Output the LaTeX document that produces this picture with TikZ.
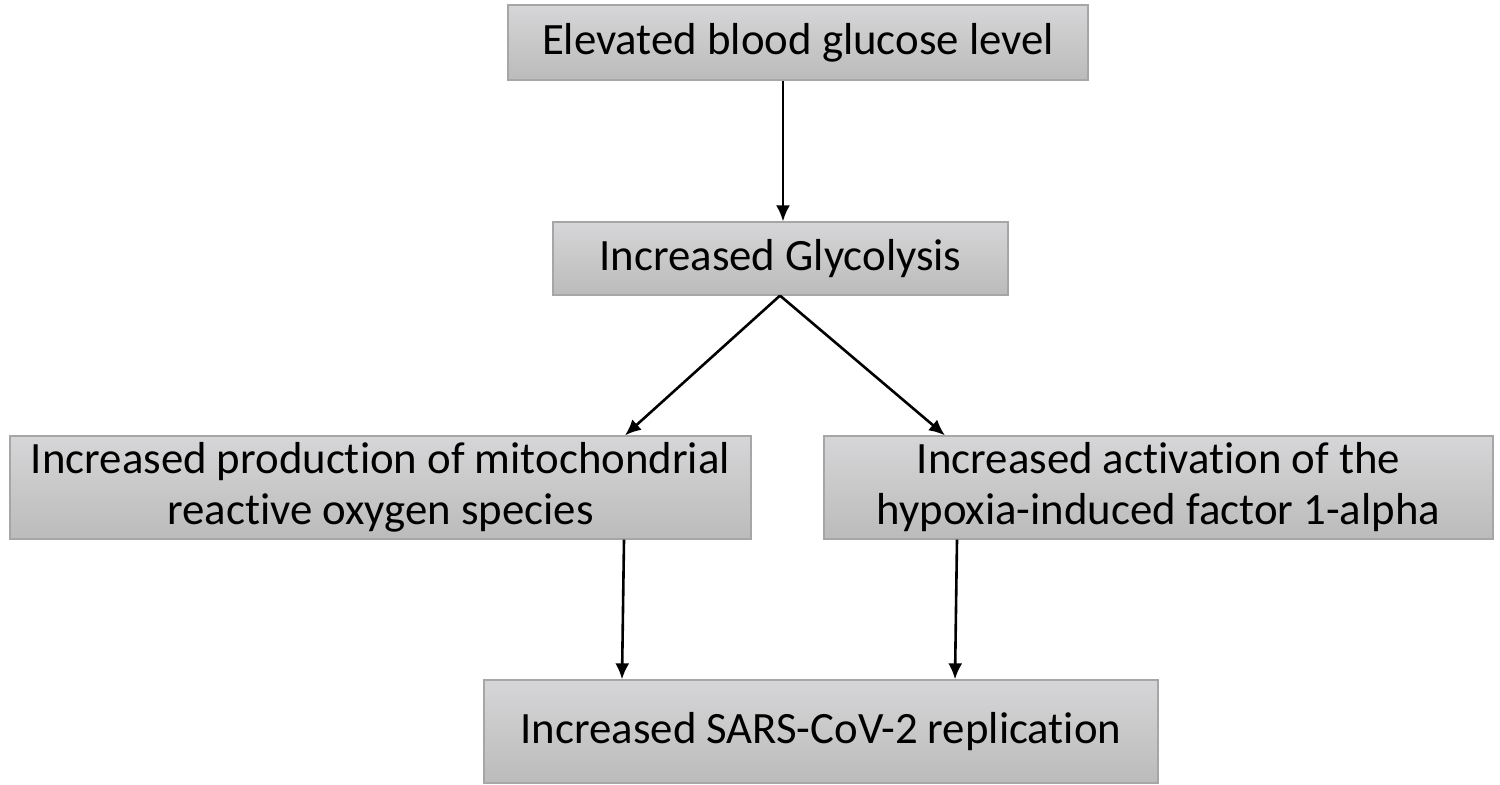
\documentclass[tikz,border=0pt]{standalone}
\usepackage{fontspec}
\setmainfont{Carlito}[Ligatures=NoCommon]
\usetikzlibrary{arrows.meta}
\definecolor{BoxTop}{HTML}{D6D6D8}
\definecolor{BoxBot}{HTML}{BBBBBB}
\definecolor{BoxLine}{HTML}{A6A6A6}
\tikzset{
    BX/.style 2 args ={rectangle, minimum width = #1, minimum height = #2, inner sep=0pt,
        draw=BoxLine, line width=0.6pt, top color=BoxTop, bottom color=BoxBot,
        align=center, font=\fontsize{22.4}{25.5}\selectfont},
    AR/.style ={-{Latex[length=8pt,width=7pt]}, line width=1.3pt, black}}

\begin{document}
\begin{tikzpicture}[x=0.5pt,y=-0.5pt]
        \useasboundingbox (0,0) rectangle (1500,785);
        \node[BX={290pt}{37.5pt}] (glucose) at(798,42.5){Elevated blood glucose level};
        \node[BX={227.5pt}{36.5pt}] (glyco) at(780.5,258.5){Increased Glycolysis};
        \node[BX={370.5pt}{51.5pt}] (ros) at(380.5,487.5){Increased production of mitochondrial\\reactive oxygen species};
        \node[BX={334.5pt}{51.5pt}] (hif) at(1158.5,487.5){Increased activation of the\\hypoxia-induced factor 1-alpha};
        \node[BX={337pt}{51.5pt}] (sars) at(821,731.5){Increased SARS-CoV-2 replication};
        \draw[AR] (glucose.south -| 783,0) -- (glyco.north -| 783,0);
        \draw[AR] (glyco.south -| 780,0) -- (ros.north -| 625,0);
        \draw[AR] (glyco.south -| 780,0) -- (hif.north -| 945,0);
        \draw[AR] (ros.south -| 624,0) -- (sars.north -| 622,0);
        \draw[AR] (hif.south -| 957,0) -- (sars.north -| 955,0);
    \end{tikzpicture}
\end{document}
